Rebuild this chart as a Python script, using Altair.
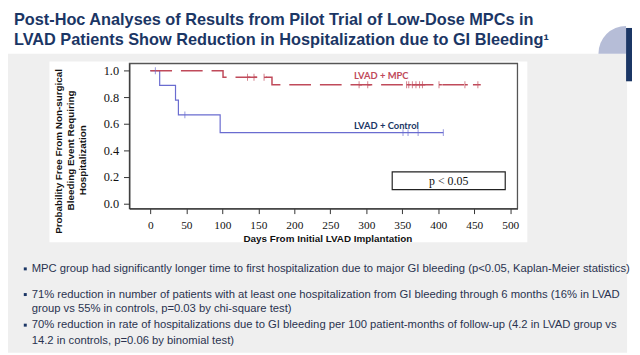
import altair as alt
import pandas as pd

# ---------------- data ----------------
mpc_days = [0, 101, 169, 455]
mpc_surv = [1.0, 0.95, 0.894, 0.894]
ctl_days = [0, 13, 35, 39, 97, 407]
ctl_surv = [1.0, 0.889, 0.778, 0.667, 0.533, 0.533]

mpc_cens_days = [135, 144, 158, 290, 302, 356, 359, 364, 369, 374, 378, 401, 437, 455]
mpc_cens_surv = [0.95, 0.95, 0.95, 0.894, 0.894, 0.894, 0.894, 0.894, 0.894, 0.894, 0.894, 0.894, 0.894, 0.894]
ctl_cens_days = [7, 48, 351, 358, 372, 407]
ctl_cens_surv = [1.0, 0.667, 0.533, 0.533, 0.533, 0.533]

x_ticks = [0, 50, 100, 150, 200, 250, 300, 350, 400, 450, 500]
y_ticks = [0.0, 0.2, 0.4, 0.6, 0.8, 1.0]

title_lines = [
    "Post-Hoc Analyses of Results from Pilot Trial of Low-Dose MPCs in",
    "LVAD Patients Show Reduction in Hospitalization due to GI Bleeding\u00b9",
]
y_title_lines = [
    "Probability Free From Non-surgical",
    "Bleeding Event Requiring",
    "Hospitalization",
]
x_title = "Days From Initial LVAD Implantation"
bullets = [
    ("MPC group had significantly longer time to first hospitalization due to major GI bleeding (p<0.05, Kaplan-Meier statistics)", True),
    ("71% reduction in number of patients with at least one hospitalization from GI bleeding through 6 months (16% in LVAD", True),
    ("group vs 55% in controls,  p=0.03 by chi-square test)", False),
    ("70% reduction in rate of hospitalizations due to GI bleeding per 100 patient-months of follow-up (4.2 in LVAD group vs", True),
    ("14.2 in controls,  p=0.06 by binomial test)", False),
]

# ---------------- styling ----------------
W, H = 393, 147
NAVY = "#1b3665"
RED = "#c04a5a"
BLUE = "#6a6cd0"
SANS = "Liberation Sans"
SERIF = "Liberation Serif"

xscale = alt.Scale(domain=[-29, 510], nice=False, zero=False)
yscale = alt.Scale(domain=[-0.04, 1.054], nice=False, zero=False)
xaxis = alt.Axis(values=x_ticks, title=None, grid=False, labelFont=SERIF, labelFontSize=11.5,
                 labelColor="#111", tickColor="#333", domainColor="#333", tickSize=5,
                 labelPadding=6, zindex=1, labelOverlap=False, labelFlush=False)
yaxis = alt.Axis(values=y_ticks, format=".1f", title=None, grid=False, labelFont=SERIF,
                 labelFontSize=12.5, labelColor="#111", tickColor="#333", domainColor="#333",
                 tickSize=6, labelPadding=5, zindex=1, labelOverlap=False)

one = pd.DataFrame({"a": [0]})


def vrect(x, x2, y, y2, **kw):
    return alt.Chart(one).mark_rect(**kw).encode(
        x=alt.value(x), x2=alt.value(x2), y=alt.value(y), y2=alt.value(y2))


def vtext(t, x, y, **kw):
    return alt.Chart(pd.DataFrame({"t": [t]})).mark_text(**kw).encode(
        x=alt.value(x), y=alt.value(y), text="t:N")


layers = []
# slide background
layers.append(vrect(-131, 504, -10, 293, color="#efefef"))
layers.append(vrect(-81, 403, -2, 181, color="#ffffff"))
# logo corner
layers.append(alt.Chart(one).mark_arc(theta=4.712, theta2=6.283, outerRadius=28, color="#b6bdd7")
              .encode(x=alt.value(503), y=alt.value(-10)))
layers.append(vrect(503, 509, -36, 18, color=NAVY))

# curves
mpc_df = pd.DataFrame({"day": mpc_days, "surv": mpc_surv})
ctl_df = pd.DataFrame({"day": ctl_days, "surv": ctl_surv})
enc = dict(x=alt.X("day:Q", scale=xscale, axis=xaxis), y=alt.Y("surv:Q", scale=yscale, axis=yaxis))
layers.append(alt.Chart(ctl_df).mark_line(interpolate="step-after", color=BLUE, strokeWidth=1.2).encode(**enc))
layers.append(alt.Chart(mpc_df).mark_line(interpolate="step-after", color=RED, strokeWidth=1.5,
                                          strokeDash=[22, 9]).encode(**enc))
mc = pd.DataFrame({"day": mpc_cens_days, "surv": mpc_cens_surv})
cc = pd.DataFrame({"day": ctl_cens_days, "surv": ctl_cens_surv})
layers.append(alt.Chart(mc).mark_tick(orient="vertical", color=RED, size=7, thickness=1).encode(**enc))
layers.append(alt.Chart(mc).mark_rule(color=RED, strokeWidth=1.5).encode(
    x=alt.X("day:Q", scale=xscale, axis=xaxis), y=alt.Y("surv:Q", scale=yscale, axis=yaxis),
    x2=alt.X2("e:Q")).transform_calculate(e="datum.day + 4"))
layers.append(alt.Chart(cc).mark_tick(orient="vertical", color=BLUE, size=7, thickness=1).encode(**enc))

# frame
layers.append(vrect(0, W, 0, H, fillOpacity=0, stroke="#555", strokeWidth=1.3))

# in-plot labels
lab = pd.DataFrame({"day": [283, 283], "surv": [0.963, 0.585], "t": ["LVAD + MPC", "LVAD + Control"],
                    "c": ["mpc", "ctl"]})
layers.append(alt.Chart(lab).mark_text(align="left", baseline="middle", font="Lato",
                                       fontSize=9.5, fontWeight="bold").encode(
    x=alt.X("day:Q", scale=xscale, axis=xaxis), y=alt.Y("surv:Q", scale=yscale, axis=yaxis),
    text="t:N",
    color=alt.Color("c:N", scale=alt.Scale(domain=["mpc", "ctl"], range=[RED, NAVY]), legend=None)))

# p-value box
pbox = pd.DataFrame({"x1": [336], "x2": [493], "y1": [0.237], "y2": [0.104], "xm": [414.5], "ym": [0.17],
                     "t": ["p < 0.05"]})
layers.append(alt.Chart(pbox).mark_rect(fill="white", stroke="#222", strokeWidth=1.2).encode(
    x=alt.X("x1:Q", scale=xscale, axis=xaxis), x2="x2:Q",
    y=alt.Y("y1:Q", scale=yscale, axis=yaxis), y2="y2:Q"))
layers.append(alt.Chart(pbox).mark_text(font=SERIF, fontSize=12, color="#111").encode(
    x=alt.X("xm:Q", scale=xscale, axis=xaxis), y=alt.Y("ym:Q", scale=yscale, axis=yaxis), text="t:N"))

# axis titles
for t, x, y in zip(y_title_lines, [-71, -59, -47], [89, 88, 98]):
    layers.append(vtext(t, x, y, angle=270, font=SANS, fontSize=10, fontWeight="bold", color="#111",
                        align="center", baseline="middle"))
layers.append(vtext(x_title, 201, 178, font=SANS, fontSize=10, fontWeight="bold", color="#111",
                    align="center", baseline="middle"))

# slide title
for t, y in zip(title_lines, [-44, -24]):
    layers.append(vtext(t, -117, y, font=SANS, fontSize=16.5, fontWeight="bold", color=NAVY,
                        align="left", baseline="middle"))

# bullets
for (t, has_b), y in zip(bullets, [208, 234, 249, 265, 281]):
    layers.append(vtext(t, -99, y, font=SANS, fontSize=11.4, color="#2a3350", align="left",
                        baseline="middle"))
    if has_b:
        layers.append(vrect(-107, -104, y - 1.5, y + 1.5, color=NAVY))

chart = alt.layer(*layers).properties(
    width=W, height=H, autosize="none",
    padding={"left": 123, "top": 54, "right": 116, "bottom": 146},
).configure_view(stroke=None).configure_axis(labelFont=SERIF)

chart.save("out.html", embed_options={"renderer": "svg", "actions": False})
